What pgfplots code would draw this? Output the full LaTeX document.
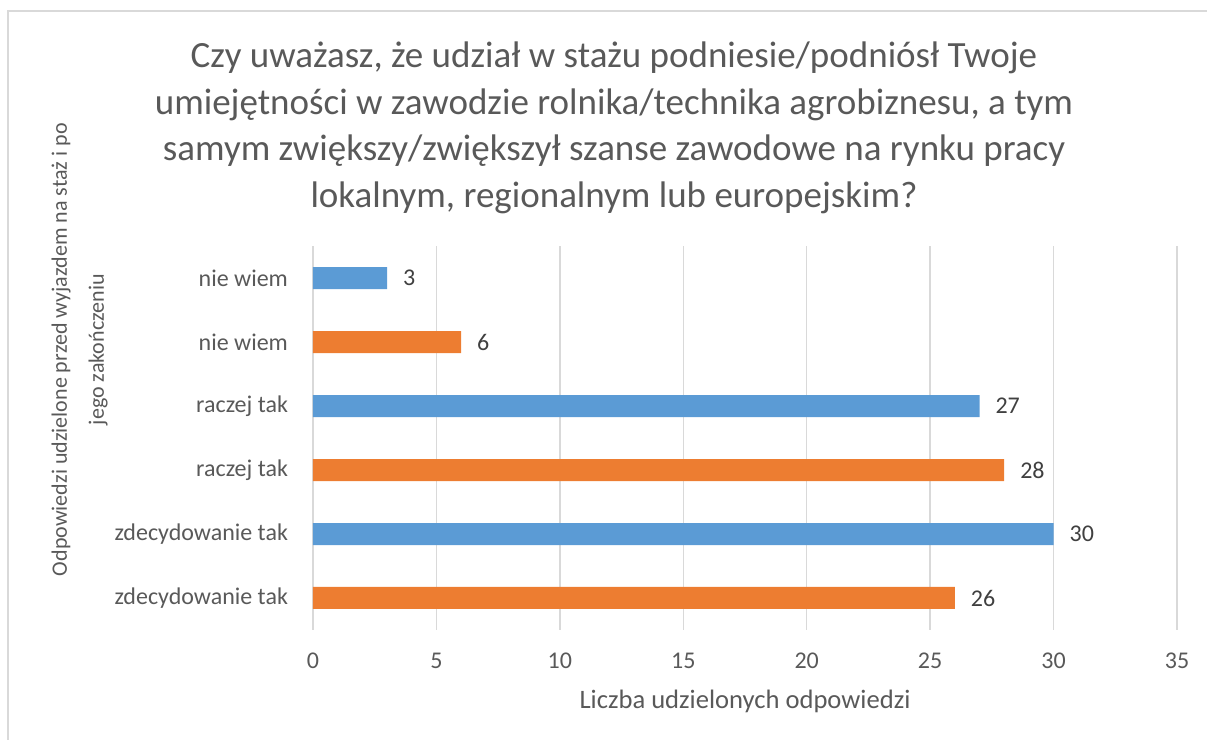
\documentclass[border=0pt]{standalone}
\usepackage{pgfplots}
\pgfplotsset{compat=1.18}
\usepackage{fontspec}
\setmainfont{Carlito}
\definecolor{barblue}{HTML}{5B9BD5}
\definecolor{barorange}{HTML}{ED7D31}
\definecolor{gridgray}{HTML}{D9D9D9}
\definecolor{textgray}{HTML}{595959}
\definecolor{labelgray}{HTML}{404040}
\begin{document}
\begin{tikzpicture}
% 1 px of the reference = 0.5pt, origin at bottom left
\useasboundingbox (0,0) rectangle (603.5pt,370pt);
\draw[gridgray, line width=0.75pt] (603.5pt,364.5pt) -- (4pt,364.5pt) -- (4pt,0pt);
\node[align=center, font=\fontsize{18.5}{23.3}\selectfont, text=textgray] at (307pt,306pt)
  {Czy uważasz, że udział w stażu podniesie/podniósł Twoje\\
   umiejętności w zawodzie rolnika/technika agrobiznesu, a tym\\
   samym zwiększy/zwiększył szanse zawodowe na rynku pracy\\
   lokalnym, regionalnym lub europejskim?};
\begin{axis}[
  at={(156.5pt,55pt)}, anchor=south west,
  scale only axis, width=432pt, height=192pt,
  xbar, bar width=11pt, bar shift=0pt,
  xmin=0, xmax=35, ymin=-0.5, ymax=5.5,
  xtick={0,5,...,35},
  ytick={0,...,5},
  yticklabels={zdecydowanie tak,zdecydowanie tak,raczej tak,raczej tak,nie wiem,nie wiem},
  xmajorgrids, grid style={draw=gridgray, line width=0.75pt},
  axis line style={draw=none}, major tick length=0pt,
  /pgf/number format/assume math mode=true,
  tick label style={font=\fontsize{12}{14}\selectfont, text=textgray},
  xticklabel style={yshift=-8pt},
  yticklabel style={xshift=-9pt},
  nodes near coords,
  nodes near coords style={anchor=west, xshift=4.5pt, font=\fontsize{12}{14}\selectfont, text=labelgray},
  xlabel={Liczba udzielonych odpowiedzi},
  xlabel style={at={(axis description cs:0.5,-0.185)}, anchor=center, font=\fontsize{13.3}{15}\selectfont, text=textgray},
  ylabel={Odpowiedzi udzielone przed wyjazdem na staż i po\\jego zakończeniu},
  ylabel style={at={(axis description cs:-0.27,0.73)}, anchor=center, align=center, font=\fontsize{11}{18.5}\selectfont, text=textgray},
]
\addplot[fill=barorange, draw=none] coordinates {(26,0) (28,2) (6,4)};
\addplot[fill=barblue, draw=none] coordinates {(30,1) (27,3) (3,5)};
\end{axis}
\end{tikzpicture}
\end{document}
